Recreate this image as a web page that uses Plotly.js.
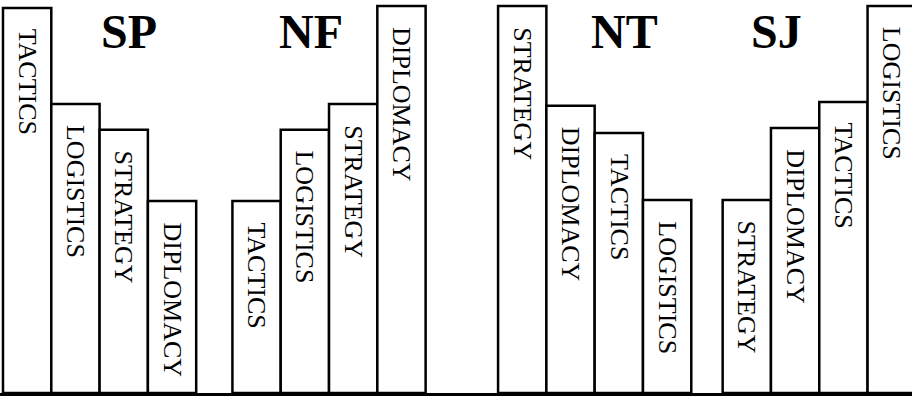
<!DOCTYPE html>
<html>
<head>
<meta charset="utf-8">
<script src="https://cdn.plot.ly/plotly-3.0.1.min.js"></script>
<style>
  html, body { margin: 0; padding: 0; background: #fff; }
  #chart { width: 912px; height: 396px; }
</style>
</head>
<body>
<div id="chart"></div>
<script>
// groups and their four bars, left to right
const groups = ['SP', 'NF', 'NT', 'SJ'];

const spLabels = ['TACTICS', 'LOGISTICS', 'STRATEGY', 'DIPLOMACY'];
const spValues = [99.5, 74.7, 68.0, 49.6];

const nfLabels = ['TACTICS', 'LOGISTICS', 'STRATEGY', 'DIPLOMACY'];
const nfValues = [49.6, 68.0, 74.7, 100];

const ntLabels = ['STRATEGY', 'DIPLOMACY', 'TACTICS', 'LOGISTICS'];
const ntValues = [100, 74.2, 67.2, 49.9];

const sjLabels = ['STRATEGY', 'DIPLOMACY', 'TACTICS', 'LOGISTICS'];
const sjValues = [49.9, 68.5, 75.2, 100];

const allLabels = [spLabels, nfLabels, ntLabels, sjLabels];
const allValues = [spValues, nfValues, ntValues, sjValues];

// layout: left edge of each group (in bar widths) and where the group names sit
const groupStart = [0, 4.75, 10.25, 14.9];
const nameX = [2.61, 6.38, 12.86, 16.02];
const nameY = 93.3;

const serif = 'Liberation Serif, "Times New Roman", serif';

// one white bar trace per group
const traces = groups.map((g, gi) => ({
    type: 'bar',
    name: g,
    x: allValues[gi].map((v, i) => groupStart[gi] + i),
    y: allValues[gi],
    width: 1,
    offset: 0,
    marker: { color: 'white', line: { color: 'black', width: 2.5 } },
    hoverinfo: 'skip',
    showlegend: false
}));

// vertical labels written down each bar
const barNotes = [];
groups.forEach((g, gi) => {
    allValues[gi].forEach((v, i) => {
        barNotes.push({
            x: groupStart[gi] + i + 0.5,
            y: v,
            xref: 'x', yref: 'y',
            text: allLabels[gi][i],
            textangle: 90,
            showarrow: false,
            xanchor: 'center',
            yanchor: 'top',
            yshift: -19,
            font: { family: serif, size: 26, color: 'black' }
        });
    });
});

// big group names
const nameNotes = groups.map((g, gi) => ({
    x: nameX[gi],
    y: nameY,
    xref: 'x', yref: 'y',
    text: g,
    showarrow: false,
    xanchor: 'center',
    yanchor: 'middle',
    font: { family: serif, size: 48, color: 'black', weight: 'bold' }
}));

const layout = {
    width: 912,
    height: 396,
    margin: { l: 0, r: 0, t: 0, b: 3 },
    paper_bgcolor: 'white',
    plot_bgcolor: 'white',
    barmode: 'overlay',
    xaxis: {
        range: [-0.062, 18.82],
        showgrid: false,
        zeroline: false,
        showticklabels: false,
        ticks: '',
        showline: true,
        linecolor: 'black',
        linewidth: 3
    },
    yaxis: {
        range: [0, 101.55],
        showgrid: false,
        zeroline: false,
        showticklabels: false,
        ticks: ''
    },
    annotations: barNotes.concat(nameNotes)
};

Plotly.newPlot('chart', traces, layout, { displayModeBar: false, staticPlot: true });
</script>
</body>
</html>
